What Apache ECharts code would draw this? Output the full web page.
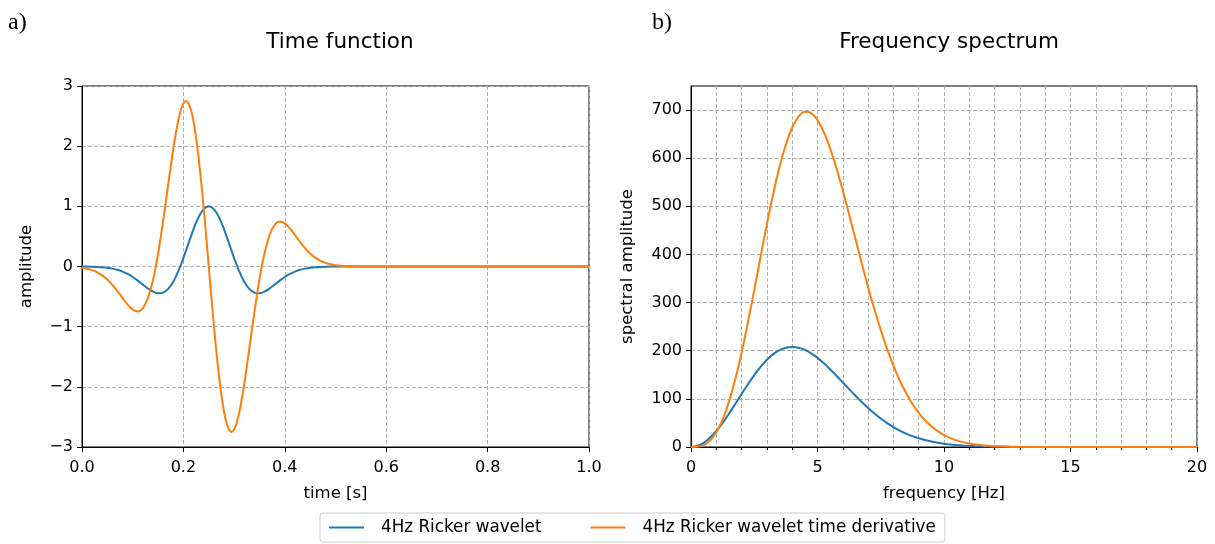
<!DOCTYPE html>
<html>
<head>
<meta charset="utf-8">
<script src="https://cdn.jsdelivr.net/npm/echarts@6/dist/echarts.min.js"></script>
<style>
  html, body { margin: 0; padding: 0; background: #fff; }
  #chart { width: 1215px; height: 544px; }
</style>
</head>
<body>
<div id="chart"></div>
<script>
// Time samples [s] for the wavelet
const timeS = [
  0.00, 0.01, 0.02, 0.03, 0.04, 0.05, 0.06, 0.07, 0.08, 0.09,
  0.10, 0.11, 0.12, 0.13, 0.14, 0.15, 0.16, 0.17, 0.18, 0.19,
  0.20, 0.21, 0.22, 0.23, 0.24, 0.25, 0.26, 0.27, 0.28, 0.29,
  0.30, 0.31, 0.32, 0.33, 0.34, 0.35, 0.36, 0.37, 0.38, 0.39,
  0.40, 0.41, 0.42, 0.43, 0.44, 0.45, 0.46, 0.47, 0.48, 0.49,
  0.50, 0.60, 0.70, 0.80, 0.90, 1.00
];

// 4 Hz Ricker wavelet amplitude
const rickerAmp = [
  -0.001, -0.002, -0.004, -0.007, -0.012, -0.021, -0.035, -0.055, -0.085, -0.124,
  -0.175, -0.235, -0.301, -0.365, -0.418, -0.445, -0.434, -0.372, -0.253, -0.078,
   0.142,  0.384,  0.621,  0.820,  0.953,  1.000,  0.953,  0.820,  0.621,  0.384,
   0.142, -0.078, -0.253, -0.372, -0.434, -0.445, -0.418, -0.365, -0.301, -0.235,
  -0.175, -0.124, -0.085, -0.055, -0.035, -0.021, -0.012, -0.007, -0.004, -0.002,
  -0.001, 0, 0, 0, 0, 0
];

// Time samples [s] for the derivative (denser around the main swing)
const derivTimeS = [
  0.000, 0.010, 0.020, 0.030, 0.040, 0.050, 0.060, 0.070, 0.080, 0.090,
  0.100, 0.110, 0.120, 0.130, 0.140, 0.145, 0.150, 0.155, 0.160, 0.165,
  0.170, 0.175, 0.180, 0.185, 0.190, 0.195, 0.200, 0.205, 0.210, 0.215,
  0.220, 0.225, 0.230, 0.235, 0.240, 0.245, 0.250, 0.255, 0.260, 0.265,
  0.270, 0.275, 0.280, 0.285, 0.290, 0.295, 0.300, 0.305, 0.310, 0.315,
  0.320, 0.325, 0.330, 0.335, 0.340, 0.345, 0.350, 0.355, 0.360, 0.370,
  0.380, 0.390, 0.400, 0.410, 0.420, 0.430, 0.440, 0.450, 0.460, 0.470,
  0.480, 0.490, 0.500, 0.520, 0.550, 0.600, 0.700, 0.800, 0.900, 1.000
];

// Time derivative of the wavelet
const derivAmp = [
  -0.022, -0.037, -0.061, -0.097, -0.148, -0.217, -0.305, -0.410, -0.524, -0.633,
  -0.717, -0.747, -0.692, -0.524, -0.223, -0.021,  0.212,  0.474,  0.758,  1.057,
   1.363,  1.665,  1.951,  2.210,  2.431,  2.600,  2.710,  2.750,  2.715,  2.601,
   2.410,  2.143,  1.807,  1.411,  0.968,  0.492,  0.000, -0.492, -0.968, -1.411,
  -1.807, -2.143, -2.410, -2.601, -2.715, -2.750, -2.710, -2.600, -2.431, -2.210,
  -1.951, -1.665, -1.363, -1.057, -0.758, -0.474, -0.212,  0.021,  0.223,  0.524,
   0.692,  0.747,  0.717,  0.633,  0.524,  0.410,  0.305,  0.217,  0.148,  0.097,
   0.061,  0.037,  0.022,  0.007,  0.001, 0, 0, 0, 0, 0
];

// Frequency samples [Hz]
const freqHz = [
  0, 0.25, 0.5, 0.75, 1, 1.25, 1.5, 1.75, 2, 2.25, 2.5, 2.75,
  3, 3.25, 3.5, 3.75, 4, 4.25, 4.5, 4.75, 5, 5.25, 5.5, 5.75,
  6, 6.25, 6.5, 6.75, 7, 7.25, 7.5, 7.75, 8, 8.25, 8.5, 8.75,
  9, 9.25, 9.5, 9.75, 10, 10.25, 10.5, 10.75, 11, 11.25, 11.5, 11.75,
  12, 12.25, 12.5, 12.75, 13, 14, 15, 16, 17, 18, 19, 20
];

// Spectral amplitude of the wavelet
const rickerSpec = [
  0, 2.2, 8.7, 19.2, 33.2, 50.1, 69.1, 89.4, 110.1, 130.4, 149.4, 166.6,
  181.2, 192.9, 201.3, 206.3, 208.0, 206.4, 201.8, 194.6, 185.2, 173.9, 161.4, 148.0,
  134.1, 120.2, 106.5, 93.4, 81.0, 69.5, 59.1, 49.7, 41.4, 34.2, 27.9, 22.6,
  18.1, 14.4, 11.3, 8.8, 6.8, 5.2, 4.0, 3.0, 2.2, 1.6, 1.2, 0.9,
  0.6, 0.4, 0.3, 0.2, 0.1, 0, 0, 0, 0, 0, 0, 0
];

// Spectral amplitude of the time derivative
const derivSpec = [
  0, 0.5, 4.0, 13.3, 30.5, 57.1, 94.0, 140.8, 196.5, 259.2, 326.4, 395.4,
  463.0, 526.2, 582.0, 628.6, 663.8, 686.6, 696.5, 693.8, 679.2, 654.1, 620.0, 579.0,
  532.7, 483.2, 432.3, 381.7, 332.6, 286.0, 243.0, 203.9, 169.1, 138.5, 112.1, 89.7,
  71.0, 55.5, 43.0, 32.9, 24.9, 18.6, 13.8, 10.1, 7.3, 5.2, 3.7, 2.6,
  1.8, 1.3, 0.9, 0.6, 0.4, 0, 0, 0, 0, 0, 0, 0
];

// Labelled ticks of the spectral amplitude axis
const spectrumTicks = [0, 100, 200, 300, 400, 500, 600, 700];

const seriesNames = ['4Hz Ricker wavelet', '4Hz Ricker wavelet time derivative'];
const BLUE = '#1f77b4';
const ORANGE = '#ff7f0e';
const FONT = 'DejaVu Sans';
const SMOOTH = 0.3;

const zip = (xs, ys) => xs.map((x, i) => [x, ys[i]]);
const minus = v => String(v).replace('-', '\u2212');

const gridLine = { show: true, lineStyle: { color: '#b0b0b0', width: 1, type: [4, 2] } };
const axisLine = { show: true, onZero: false, lineStyle: { color: '#000', width: 1 } };
const axisTick = { show: true, inside: false, length: 5, lineStyle: { color: '#000', width: 1 } };
const labelStyle = { color: '#000', fontFamily: FONT, fontSize: 16 };
const nameStyle = { color: '#000', fontFamily: FONT, fontSize: 16.5 };
const titleStyle = { color: '#000', fontFamily: FONT, fontSize: 21.5, fontWeight: 'normal' };
const panelStyle = { color: '#000', fontFamily: 'Liberation Serif', fontSize: 24, fontWeight: 'normal' };

const chart = echarts.init(document.getElementById('chart'), null, { renderer: 'canvas' });

chart.setOption({
  animation: false,
  backgroundColor: '#fff',
  title: [
    { text: 'Time function', left: 335, top: 26, textAlign: 'center', textStyle: titleStyle },
    { text: 'Frequency spectrum', left: 944, top: 26, textAlign: 'center', textStyle: titleStyle },
    { text: 'a)', left: 3, top: 6, textStyle: panelStyle },
    { text: 'b)', left: 647, top: 6, textStyle: panelStyle }
  ],
  legend: {
    data: seriesNames,
    left: 320,
    top: 513,
    orient: 'horizontal',
    icon: 'rect',
    itemWidth: 35,
    itemHeight: 2,
    itemGap: 49,
    padding: [6, 9, 6, 9],
    borderColor: '#cccccc',
    borderWidth: 1,
    borderRadius: 3,
    backgroundColor: '#fff',
    textStyle: { color: '#000', fontFamily: FONT, fontSize: 16.8, padding: [0, 0, 0, 12] }
  },
  grid: [
    { left: 82, top: 86, width: 507, height: 361, show: true, borderColor: '#000', borderWidth: 1, backgroundColor: '#fff' },
    { left: 691, top: 86, width: 506, height: 361, show: true, borderColor: '#000', borderWidth: 1, backgroundColor: '#fff' }
  ],
  xAxis: [
    {
      gridIndex: 0, type: 'value', min: 0, max: 1, interval: 0.2,
      name: 'time [s]', nameLocation: 'middle', nameGap: 38, nameTextStyle: nameStyle,
      axisLine, axisTick,
      axisLabel: { ...labelStyle, margin: 13, formatter: v => v.toFixed(1) },
      splitLine: gridLine
    },
    {
      gridIndex: 1, type: 'value', min: 0, max: 20, interval: 5,
      name: 'frequency [Hz]', nameLocation: 'middle', nameGap: 38, nameTextStyle: nameStyle,
      axisLine, axisTick,
      minorTick: { show: true, splitNumber: 5, length: 3, lineStyle: { color: '#000', width: 1 } },
      minorSplitLine: { show: true, lineStyle: { color: '#b0b0b0', width: 1, type: [4, 2] } },
      axisLabel: { ...labelStyle, margin: 13, formatter: v => String(v) },
      splitLine: gridLine
    }
  ],
  yAxis: [
    {
      gridIndex: 0, type: 'value', min: -3, max: 3, interval: 1,
      name: 'amplitude', nameLocation: 'middle', nameGap: 47, nameTextStyle: nameStyle,
      axisLine, axisTick,
      axisLabel: { ...labelStyle, margin: 9, formatter: v => minus(v) },
      splitLine: gridLine
    },
    {
      gridIndex: 1, type: 'value', min: 0, max: 750, interval: 100,
      name: 'spectral amplitude', nameLocation: 'middle', nameGap: 55, nameTextStyle: nameStyle,
      axisLine,
      axisTick: { ...axisTick, customValues: spectrumTicks },
      axisLabel: { ...labelStyle, margin: 9, customValues: spectrumTicks, formatter: v => String(v) },
      splitLine: gridLine
    }
  ],
  series: [
    {
      name: seriesNames[0], type: 'line', xAxisIndex: 0, yAxisIndex: 0,
      data: zip(timeS, rickerAmp), smooth: SMOOTH, symbol: 'none',
      lineStyle: { color: BLUE, width: 2 }, itemStyle: { color: BLUE }, z: 3
    },
    {
      name: seriesNames[1], type: 'line', xAxisIndex: 0, yAxisIndex: 0,
      data: zip(derivTimeS, derivAmp), smooth: SMOOTH, symbol: 'none',
      lineStyle: { color: ORANGE, width: 2 }, itemStyle: { color: ORANGE }, z: 4
    },
    {
      name: seriesNames[0], type: 'line', xAxisIndex: 1, yAxisIndex: 1,
      data: zip(freqHz, rickerSpec), smooth: SMOOTH, symbol: 'none',
      lineStyle: { color: BLUE, width: 2 }, itemStyle: { color: BLUE }, z: 3
    },
    {
      name: seriesNames[1], type: 'line', xAxisIndex: 1, yAxisIndex: 1,
      data: zip(freqHz, derivSpec), smooth: SMOOTH, symbol: 'none',
      lineStyle: { color: ORANGE, width: 2 }, itemStyle: { color: ORANGE }, z: 4
    }
  ]
});
</script>
</body>
</html>
